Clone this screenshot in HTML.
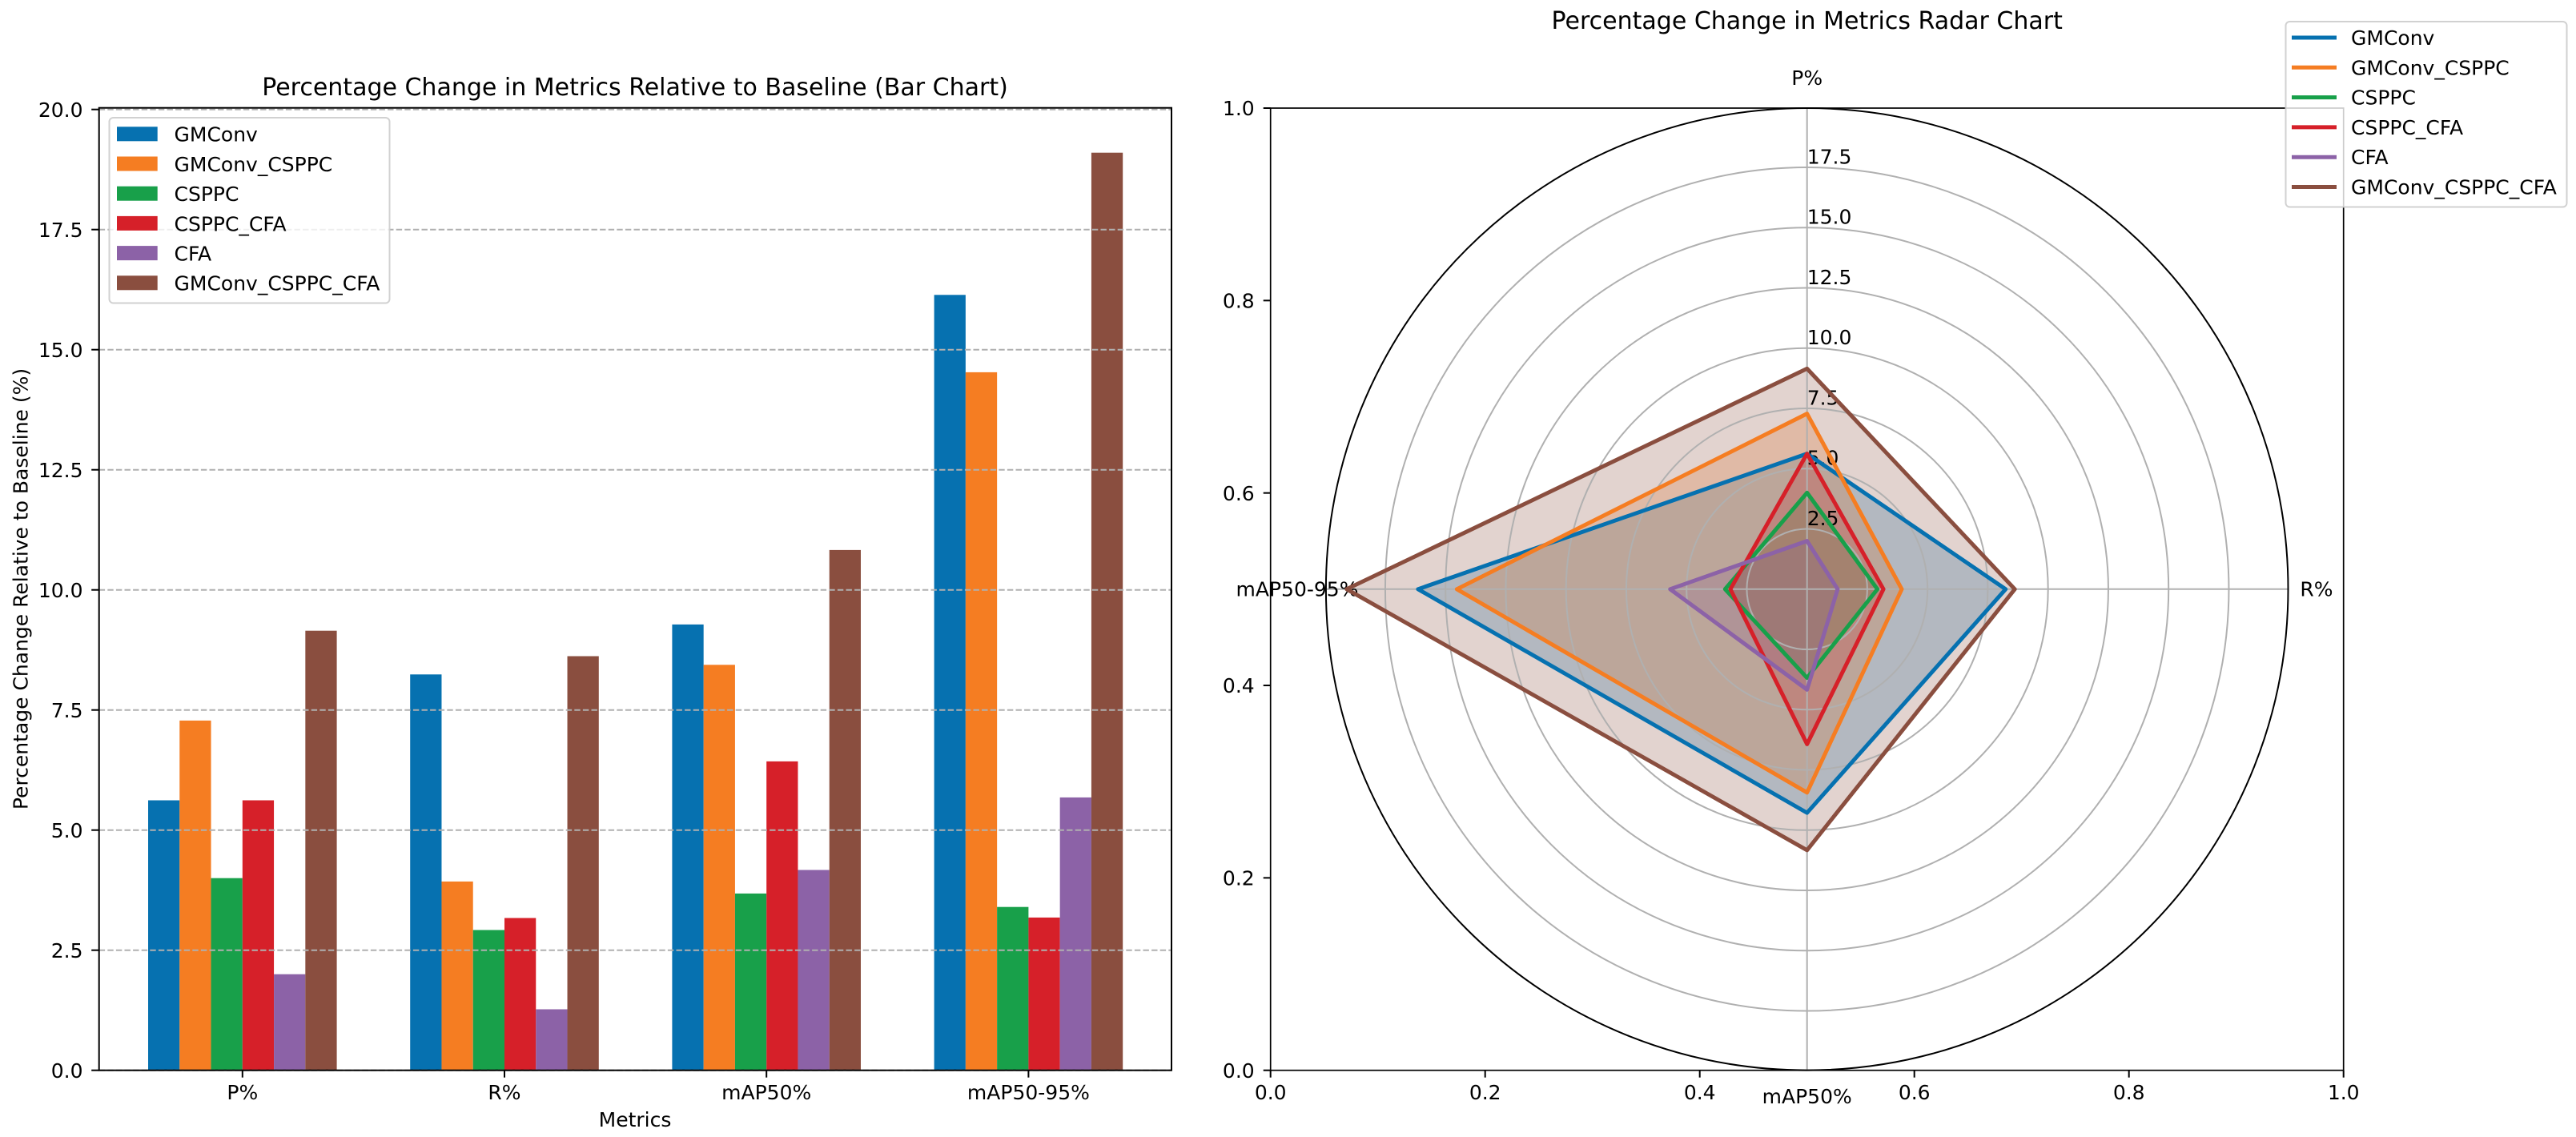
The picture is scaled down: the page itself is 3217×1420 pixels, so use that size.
<!DOCTYPE html>
<html lang="en">
<head>
<meta charset="utf-8">
<title>Percentage Change in Metrics</title>
<style>
html,body{margin:0;padding:0;background:#fff;width:3217px;height:1420px;overflow:hidden}
svg{display:block}
text{font-family:"DejaVu Sans","Liberation Sans",sans-serif;fill:#000}
</style>
</head>
<body>
<svg id="chart" xmlns="http://www.w3.org/2000/svg" width="3217" height="1420" viewBox="0 0 3217 1420">
  <rect x="0" y="0" width="3217" height="1420" fill="#fff"/>
  <g id="barPanel"></g>
  <g id="radarPanel"></g>
  <text x="793" y="119" font-size="30" text-anchor="middle">Percentage Change in Metrics Relative to Baseline (Bar Chart)</text>
  <text x="793" y="1407" font-size="25" text-anchor="middle">Metrics</text>
  <text transform="translate(34.3 735.5) rotate(-90)" font-size="25" text-anchor="middle">Percentage Change Relative to Baseline (%)</text>
  <text x="2256.7" y="36" font-size="30" text-anchor="middle">Percentage Change in Metrics Radar Chart</text>
</svg>
<script>
const categories = ['P%', 'R%', 'mAP50%', 'mAP50-95%'];
const seriesNames = ['GMConv', 'GMConv_CSPPC', 'CSPPC', 'CSPPC_CFA', 'CFA', 'GMConv_CSPPC_CFA'];
const seriesColors = ['#0671b0', '#f57d22', '#18a04a', '#d62029', '#8c62a7', '#8a4e3f'];
const gmconvValues = [5.62, 8.24, 9.28, 16.14];
const gmconvCsppcValues = [7.28, 3.93, 8.44, 14.53];
const csppcValues = [4.0, 2.92, 3.68, 3.4];
const csppcCfaValues = [5.62, 3.17, 6.43, 3.18];
const cfaValues = [2.0, 1.27, 4.17, 5.68];
const gmconvCsppcCfaValues = [9.15, 8.62, 10.83, 19.1];
const barYTicks = [0, 2.5, 5, 7.5, 10, 12.5, 15, 17.5, 20];
const barYTickLabels = ['0.0', '2.5', '5.0', '7.5', '10.0', '12.5', '15.0', '17.5', '20.0'];
const radarRingTicks = [2.5, 5, 7.5, 10, 12.5, 15, 17.5];
const radarRingLabels = ['2.5', '5.0', '7.5', '10.0', '12.5', '15.0', '17.5'];
const unitTicks = [0, 0.2, 0.4, 0.6, 0.8, 1];
const unitTickLabels = ['0.0', '0.2', '0.4', '0.6', '0.8', '1.0'];

const allSeries = [gmconvValues, gmconvCsppcValues, csppcValues, csppcCfaValues, cfaValues, gmconvCsppcCfaValues];

const NS = 'http://www.w3.org/2000/svg';
function make(tag, attrs, parent) {
  const node = document.createElementNS(NS, tag);
  for (const k in attrs) node.setAttribute(k, attrs[k]);
  parent.appendChild(node);
  return node;
}
function slug(s) { return s.toLowerCase().replace(/%/g, '-pct').replace(/[^a-z0-9]+/g, '-').replace(/-$/, ''); }

/* ---------- bar panel ---------- */
const barPanel = document.getElementById('barPanel');
const bar = { left: 123.7, right: 1463, top: 134.7, bottom: 1336.7, x0: 302.8, unit: 327.2, barW: 0.12, yPerUnit: 60 };
const barX = i => bar.x0 + bar.unit * i;
const barY = v => bar.bottom - v * bar.yPerUnit;

allSeries.forEach((values, s) => {
  const group = make('g', { fill: seriesColors[s] }, barPanel);
  
  
  values.forEach((v, c) => {
    const rect = make('rect', {
      x: barX(c) + (s - 2.5) * bar.barW * bar.unit - bar.barW * bar.unit / 2,
      y: barY(v),
      width: bar.barW * bar.unit,
      height: bar.bottom - barY(v)
    }, group);
    
    
  });
});

barYTicks.forEach((t, i) => {
  const grid = make('line', { x1: bar.left, x2: bar.right, y1: barY(t), y2: barY(t), stroke: '#b0b0b0', 'stroke-width': 2, 'stroke-dasharray': '7.4 3.2' }, barPanel);
  
  
  const tick = make('line', { x1: bar.left - 9.5, x2: bar.left, y1: barY(t), y2: barY(t), stroke: '#000', 'stroke-width': 2 }, barPanel);
  
  
  const label = make('text', { x: 103.5, y: barY(t) + 9.1, 'font-size': 25, 'text-anchor': 'end' }, barPanel);
  
  
  label.textContent = barYTickLabels[i];
});
categories.forEach((c, i) => {
  const tick = make('line', { x1: barX(i), x2: barX(i), y1: bar.bottom, y2: bar.bottom + 9, stroke: '#000', 'stroke-width': 2 }, barPanel);
  
  
  const label = make('text', { x: barX(i), y: 1373, 'font-size': 25, 'text-anchor': 'middle' }, barPanel);
  
  
  label.textContent = c;
});
const barFrame = make('rect', { x: bar.left, y: bar.top, width: bar.right - bar.left, height: bar.bottom - bar.top, fill: 'none', stroke: '#000', 'stroke-width': 2 }, barPanel);



const barLegend = make('g', {}, barPanel);


const barLegendBox = make('rect', { x: 136.5, y: 147, width: 350, height: 231.5, rx: 5, fill: '#fff', 'fill-opacity': 0.8, stroke: '#cccccc', 'stroke-opacity': 0.9, 'stroke-width': 2 }, barLegend);


seriesNames.forEach((name, s) => {
  const swatch = make('rect', { x: 146, y: 158.3 + 37.2 * s, width: 50.7, height: 18, fill: seriesColors[s] }, barLegend);
  
  
  const label = make('text', { x: 217.5, y: 176.7 + 37.2 * s, 'font-size': 25 }, barLegend);
  
  
  label.textContent = name;
});

/* ---------- radar panel ---------- */
const radarPanel = document.getElementById('radarPanel');
const radar = { left: 1586.7, right: 2926.7, top: 135, bottom: 1336.7, cx: 2256.7, cy: 735.8, R: 600.8, rPerUnit: 30.1 };
const unitX = v => radar.left + v * (radar.right - radar.left);
const unitY = v => radar.bottom - v * (radar.bottom - radar.top);
const polar = (c, v) => {
  const a = c / categories.length * Math.PI * 2;
  return [radar.cx + Math.sin(a) * v * radar.rPerUnit, radar.cy - Math.cos(a) * v * radar.rPerUnit];
};

const radarFrame = make('rect', { x: radar.left, y: radar.top, width: radar.right - radar.left, height: radar.bottom - radar.top, fill: 'none', stroke: '#000', 'stroke-width': 1.7 }, radarPanel);


unitTicks.forEach((t, i) => {
  const xt = make('line', { x1: unitX(t), x2: unitX(t), y1: radar.bottom, y2: radar.bottom + 9, stroke: '#000', 'stroke-width': 2 }, radarPanel);
  
  
  const xl = make('text', { x: unitX(t), y: 1373, 'font-size': 25, 'text-anchor': 'middle' }, radarPanel);
  
  
  xl.textContent = unitTickLabels[i];
  const yt = make('line', { x1: radar.left - 9, x2: radar.left, y1: unitY(t), y2: unitY(t), stroke: '#000', 'stroke-width': 2 }, radarPanel);
  
  
  const yl = make('text', { x: 1566.7, y: unitY(t) + 9.1, 'font-size': 25, 'text-anchor': 'end' }, radarPanel);
  
  
  yl.textContent = unitTickLabels[i];
});

allSeries.forEach((values, s) => {
  const points = values.map((v, c) => polar(c, v).map(n => n.toFixed(2)).join(',')).join(' ');
  const fill = make('polygon', { points: points, fill: seriesColors[s], 'fill-opacity': 0.25, stroke: 'none' }, radarPanel);
  
  
});

radarRingTicks.forEach(t => {
  const ring = make('circle', { cx: radar.cx, cy: radar.cy, r: t * radar.rPerUnit, fill: 'none', stroke: '#b0b0b0', 'stroke-width': 2 }, radarPanel);
  
  
});
categories.forEach((c, i) => {
  const a = i / categories.length * Math.PI * 2;
  const spoke = make('line', { x1: radar.cx, y1: radar.cy, x2: radar.cx + Math.sin(a) * radar.R, y2: radar.cy - Math.cos(a) * radar.R, stroke: '#b0b0b0', 'stroke-width': 2 }, radarPanel);
  
  
});
radarRingTicks.forEach((t, i) => {
  const label = make('text', { x: radar.cx, y: radar.cy - t * radar.rPerUnit - 4.8, 'font-size': 25 }, radarPanel);
  
  
  label.textContent = radarRingLabels[i];
});
const axisLabelSpots = [[2256.7, 106], [2893, 744.5], [2256.7, 1378], [1620, 744.5]];
categories.forEach((c, i) => {
  const label = make('text', { x: axisLabelSpots[i][0], y: axisLabelSpots[i][1], 'font-size': 25, 'text-anchor': 'middle' }, radarPanel);
  
  
  label.textContent = c;
});

allSeries.forEach((values, s) => {
  const points = values.map((v, c) => polar(c, v).map(n => n.toFixed(2)).join(',')).join(' ');
  const line = make('polygon', { points: points, fill: 'none', stroke: seriesColors[s], 'stroke-width': 5, 'stroke-linejoin': 'round' }, radarPanel);
  
  
});

const outer = make('circle', { cx: radar.cx, cy: radar.cy, r: radar.R, fill: 'none', stroke: '#000', 'stroke-width': 2 }, radarPanel);



const radarLegend = make('g', {}, radarPanel);


const radarLegendBox = make('rect', { x: 2854.5, y: 27, width: 351, height: 231.5, rx: 5, fill: '#fff', 'fill-opacity': 0.8, stroke: '#cccccc', 'stroke-opacity': 0.9, 'stroke-width': 2 }, radarLegend);


seriesNames.forEach((name, s) => {
  const y = 47 + 37.3 * s;
  const swatch = make('line', { x1: 2862, x2: 2918, y1: y, y2: y, stroke: seriesColors[s], 'stroke-width': 5 }, radarLegend);
  
  
  const label = make('text', { x: 2936, y: y + 9, 'font-size': 25 }, radarLegend);
  
  
  label.textContent = name;
});
</script>
</body>
</html>
